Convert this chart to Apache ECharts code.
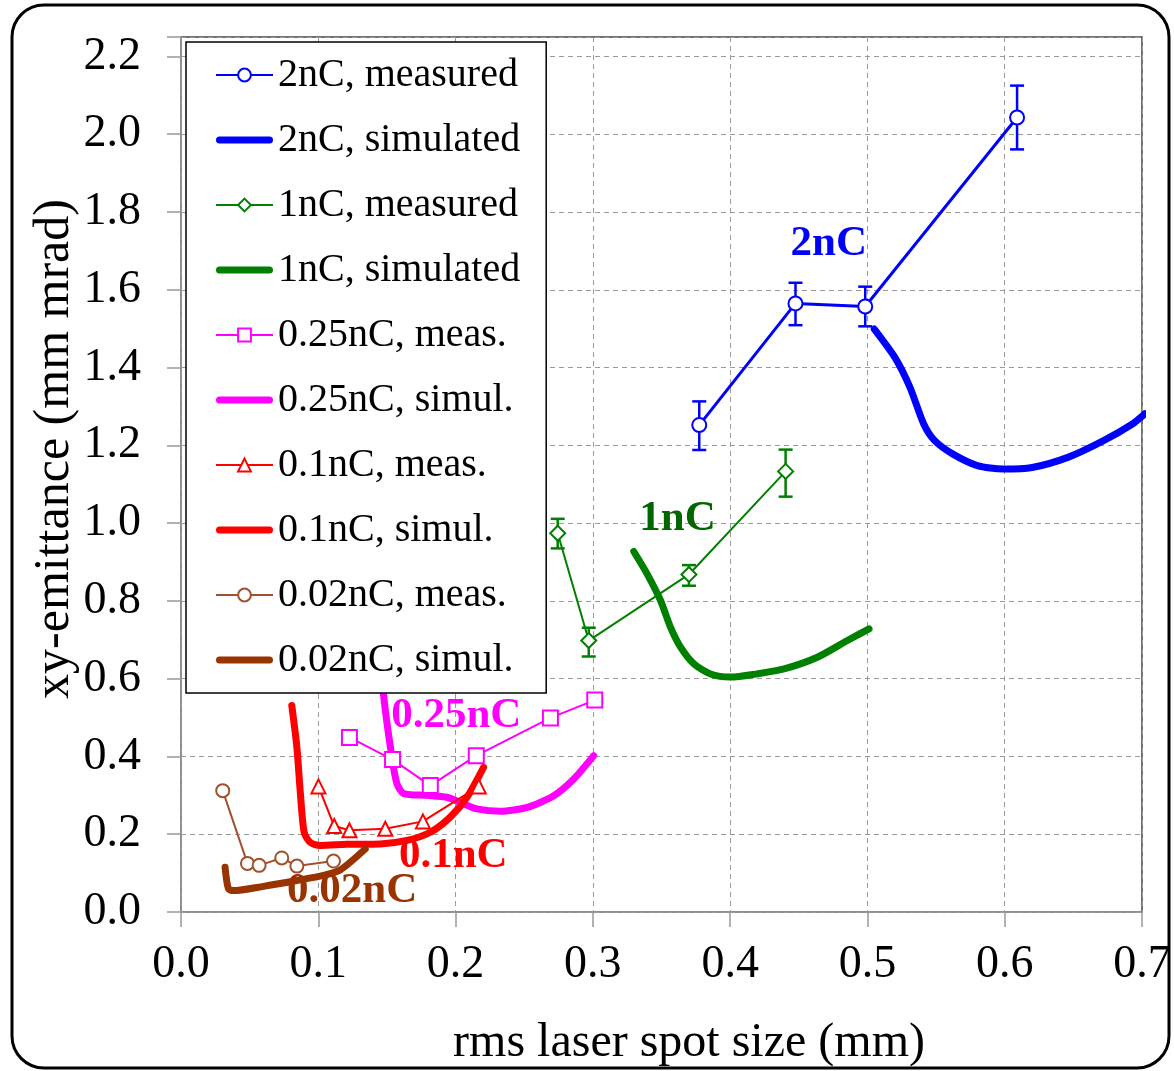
<!DOCTYPE html>
<html>
<head>
<meta charset="utf-8">
<script src="https://cdn.jsdelivr.net/npm/echarts@6/dist/echarts.min.js"></script>
<style>
html,body{margin:0;padding:0;background:#fff;}
#chart{width:1174px;height:1071px;}
</style>
</head>
<body>
<div id="chart"></div>
<script>
// ---------------- data ----------------
const xTicks = [0.0, 0.1, 0.2, 0.3, 0.4, 0.5, 0.6, 0.7];
const yTicks = [0.0, 0.2, 0.4, 0.6, 0.8, 1.0, 1.2, 1.4, 1.6, 1.8, 2.0, 2.2];

// 2 nC
const nC2MeasX = [0.3775, 0.4476, 0.4984, 0.609];
const nC2MeasY = [1.252, 1.565, 1.557, 2.043];
const nC2ErrLo = [1.188, 1.509, 1.506, 1.961];
const nC2ErrHi = [1.313, 1.618, 1.608, 2.125];
const nC2SimX = [0.505, 0.520, 0.531, 0.541, 0.549, 0.562, 0.580, 0.599, 0.620, 0.646, 0.672, 0.693, 0.702];
const nC2SimY = [1.499, 1.426, 1.349, 1.255, 1.212, 1.178, 1.148, 1.139, 1.143, 1.169, 1.212, 1.255, 1.281];

// 1 nC
const nC1MeasX = [0.2744, 0.297, 0.370, 0.4404];
const nC1MeasY = [0.974, 0.698, 0.868, 1.133];
const nC1ErrLo = [0.935, 0.657, 0.839, 1.068];
const nC1ErrHi = [1.011, 0.731, 0.892, 1.189];
const nC1SimX = [0.3298, 0.3396, 0.3493, 0.3566, 0.3639, 0.3736, 0.3857, 0.4003, 0.4173, 0.4392, 0.4635, 0.4854, 0.5012];
const nC1SimY = [0.927, 0.869, 0.801, 0.732, 0.681, 0.638, 0.612, 0.604, 0.611, 0.625, 0.655, 0.698, 0.728];

// 0.25 nC
const nC025MeasX = [0.1227, 0.1541, 0.1816, 0.2151, 0.2691, 0.3014];
const nC025MeasY = [0.449, 0.392, 0.325, 0.402, 0.499, 0.545];
const nC025SimX = [0.146, 0.1475, 0.1536, 0.1573, 0.1621, 0.1792, 0.1937, 0.2034, 0.2156, 0.2326, 0.2521, 0.2715, 0.2861, 0.3006];
const nC025SimY = [0.66, 0.56, 0.398, 0.330, 0.305, 0.300, 0.295, 0.282, 0.265, 0.259, 0.269, 0.299, 0.342, 0.402];

// 0.1 nC
const nC01MeasX = [0.1001, 0.1116, 0.1227, 0.1488, 0.1762, 0.2169];
const nC01MeasY = [0.323, 0.221, 0.210, 0.214, 0.233, 0.323];
const nC01SimX = [0.0807, 0.0844, 0.0868, 0.0897, 0.0941, 0.1014, 0.1208, 0.1451, 0.1646, 0.1816, 0.1961, 0.2083, 0.2204];
const nC01SimY = [0.531, 0.424, 0.312, 0.205, 0.179, 0.171, 0.174, 0.175, 0.184, 0.205, 0.244, 0.295, 0.372];

// 0.02 nC
const nC002MeasX = [0.0304, 0.0484, 0.0569, 0.0734, 0.0844, 0.1111];
const nC002MeasY = [0.312, 0.125, 0.120, 0.139, 0.118, 0.131];
const nC002SimX = [0.0321, 0.0345, 0.0381, 0.0600, 0.0844, 0.1038, 0.1159, 0.1342];
const nC002SimY = [0.115, 0.060, 0.055, 0.066, 0.081, 0.094, 0.108, 0.162];

// in-plot annotations
const annText = ['2nC', '1nC', '0.25nC', '0.1nC', '0.02nC'];
const annX = [0.4718, 0.3617, 0.2005, 0.1983, 0.1247];
const annY = [1.718, 1.012, 0.503, 0.145, 0.053];

// ---------------- styling ----------------
const SERIF = '"Liberation Serif","Times New Roman",serif';
const C = {blue:'#0000FF', green:'#008000', greenLbl:'#006600', mag:'#FF00FF', red:'#FF0000', brown:'#993300', brownMeas:'#A0522D'};
const annColor = [C.blue, C.greenLbl, C.mag, C.red, C.brown];
const THICK_ICON = 'path://M3.5,0 H53.5 A3.5,3.5 0 0 1 53.5,7 H3.5 A3.5,3.5 0 0 1 3.5,0 Z';

const zip = (xs, ys) => xs.map((x, i) => [x, ys[i]]);
const zip3 = (xs, a, b) => xs.map((x, i) => [x, a[i], b[i]]);

function meas(name, xs, ys, color, symbol, size, lw) {
  return {
    name, type:'line', data: zip(xs, ys), symbol, symbolSize:size, showSymbol:true,
    lineStyle:{color, width:lw}, itemStyle:{color, borderColor:color, borderWidth:2},
    z:4, emphasis:{disabled:true}, silent:true
  };
}
function sim(name, xs, ys, color) {
  return {
    name, type:'line', data: zip(xs, ys), symbol:'none', smooth:0.25,
    lineStyle:{color, width:7, cap:'round', join:'round'}, itemStyle:{color},
    z:3, emphasis:{disabled:true}, silent:true
  };
}
function errBars(xs, lo, hi, color) {
  return {
    type:'custom', data: zip3(xs, lo, hi), encode:{x:0, y:[1,2]}, z:3, silent:true,
    renderItem(params, api) {
      const x = api.value(0);
      const a = api.coord([x, api.value(1)]);
      const b = api.coord([x, api.value(2)]);
      const w = 7, st = {stroke:color, lineWidth:2.5};
      return {type:'group', children:[
        {type:'line', shape:{x1:a[0], y1:a[1], x2:b[0], y2:b[1]}, style:st},
        {type:'line', shape:{x1:a[0]-w, y1:a[1], x2:a[0]+w, y2:a[1]}, style:st},
        {type:'line', shape:{x1:b[0]-w, y1:b[1], x2:b[0]+w, y2:b[1]}, style:st}
      ]};
    }
  };
}

const names = ['2nC, measured','2nC, simulated','1nC, measured','1nC, simulated',
  '0.25nC, meas.','0.25nC, simul.','0.1nC, meas.','0.1nC, simul.','0.02nC, meas.','0.02nC, simul.'];
const simulatedNames = [names[1], names[3], names[5], names[7], names[9]];

const series = [
  errBars(nC2MeasX, nC2ErrLo, nC2ErrHi, C.blue),
  errBars(nC1MeasX, nC1ErrLo, nC1ErrHi, C.green),
  meas(names[0], nC2MeasX, nC2MeasY, C.blue, 'emptyCircle', 14, 3),
  sim(names[1], nC2SimX, nC2SimY, C.blue),
  meas(names[2], nC1MeasX, nC1MeasY, C.green, 'emptyDiamond', 15, 2),
  sim(names[3], nC1SimX, nC1SimY, C.green),
  meas(names[4], nC025MeasX, nC025MeasY, C.mag, 'emptyRect', 15, 2),
  sim(names[5], nC025SimX, nC025SimY, C.mag),
  meas(names[6], nC01MeasX, nC01MeasY, C.red, 'emptyTriangle', 14, 2),
  sim(names[7], nC01SimX, nC01SimY, C.red),
  meas(names[8], nC002MeasX, nC002MeasY, C.brownMeas, 'emptyCircle', 13, 2),
  sim(names[9], nC002SimX, nC002SimY, C.brown),
  {
    type:'scatter', silent:true, z:6, symbolSize:0,
    itemStyle:{color:'rgba(0,0,0,0)', opacity:1},
    data: annText.map((t, i) => ({name:t, value:[annX[i], annY[i]],
      label:{color:annColor[i]}})),
    label:{show:true, position:'inside', formatter:p => p.name, opacity:1,
      fontFamily:SERIF, fontWeight:'bold', fontSize:43}
  }
];

const chart = echarts.init(document.getElementById('chart'), null, {renderer:'canvas'});
chart.setOption({
  animation:false,
  backgroundColor:'#fff',
  grid:{left:181, right:32, top:37, bottom:159, show:true, borderColor:'#444', borderWidth:1.5},
  xAxis:{
    type:'value', min:xTicks[0], max:xTicks[xTicks.length-1], interval:0.1,
    axisLine:{show:true, onZero:false, lineStyle:{color:'#999', width:1.5}},
    axisTick:{show:true, inside:false, length:15, lineStyle:{color:'#999', width:1.5}},
    axisLabel:{fontFamily:SERIF, fontSize:46, color:'#000', margin:30,
      formatter:v => v.toFixed(1)},
    splitLine:{show:true, lineStyle:{color:'#9a9a9a', type:[5,4], width:1}}
  },
  yAxis:{
    type:'value', min:0, max:2.25, interval:0.2,
    axisLine:{show:true, lineStyle:{color:'#999', width:1.5}},
    axisTick:{show:true, length:14, lineStyle:{color:'#999', width:1.5}},
    axisLabel:{fontFamily:SERIF, fontSize:46, color:'#000', margin:40,
      formatter:v => (yTicks.some(t => Math.abs(t - v) < 1e-6) ? v.toFixed(1) : '')},
    splitLine:{show:true, lineStyle:{color:'#9a9a9a', type:[5,4], width:1}}
  },
  legend:{
    orient:'vertical', left:186, top:42, itemWidth:57, itemHeight:16, itemGap:25,
    padding:[13, 26, 13, 29], backgroundColor:'#fff', borderColor:'#000', borderWidth:1.5,
    textStyle:{fontFamily:SERIF, fontSize:40, color:'#000', lineHeight:40},
    data:names.map(n => simulatedNames.includes(n) ? {name:n, icon:THICK_ICON} : {name:n}),
    selectedMode:false
  },
  graphic:[
    {type:'rect', z:100, silent:true, shape:{x:12, y:5, width:1157, height:1063, r:32},
      style:{fill:'none', stroke:'#000', lineWidth:3}},
    {type:'text', z:100, silent:true, x:55, y:449, rotation:Math.PI/2,
      style:{text:'xy-emittance (mm mrad)', font:'50px ' + SERIF, fill:'#000',
        textAlign:'center', textVerticalAlign:'middle'}},
    {type:'text', z:100, silent:true, x:689, y:1043,
      style:{text:'rms laser spot size (mm)', font:'48px ' + SERIF, fill:'#000',
        textAlign:'center', textVerticalAlign:'middle'}}
  ],
  series
});
</script>
</body>
</html>
